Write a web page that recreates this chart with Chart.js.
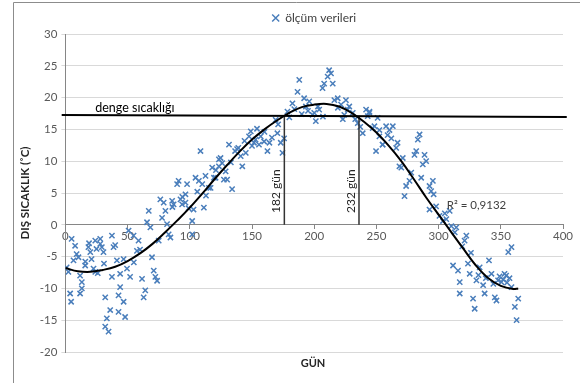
<!DOCTYPE html>
<html>
<head>
<meta charset="utf-8">
<script src="https://cdn.jsdelivr.net/npm/chart.js@4/dist/chart.umd.min.js"></script>
<style>
  body { margin: 0; background: #fff; }
  #wrap { position: relative; width: 580px; height: 383px; }
</style>
</head>
<body>
<div id="wrap"><canvas id="chart" width="580" height="383"></canvas></div>
<script>
// gün, sıcaklık (°C)
const olcumGun = [
  5, 7.8, 1, 2.4, 6.5, 3.8, 4.6, 10.5, 11.8, 13.2, 13.2, 11.8, 15.9, 18.5, 20, 21, 22.6, 24, 25, 28,
  28, 29.3, 30.6, 24, 32, 33.3, 34.7, 32, 36, 37.4, 37.4, 38.7, 41.4, 42.7, 44, 42.7, 44, 46.8, 48, 46.8,
  49.5, 50.8, 52, 54.8, 58.8, 57.5, 61.6, 64.2, 62.9, 65.6, 67, 68.3, 69.6, 71, 72.3, 73.7, 75, 76.3, 77.7, 79,
  80.4, 81.7, 83, 84.4, 85.8, 87, 89.8, 91, 92.5, 93.8, 96.5, 97.8, 96.5, 101.9, 101.9, 103, 104.6, 107.3, 110, 111.3,
  112.6, 116.7, 118, 120.7, 123.4, 126, 127.4, 108.6, 115.3, 119.4, 123.4, 124.7, 128.8, 130, 134, 131.5, 136.4, 139, 140.9, 142.2,
  145, 147.6, 149, 151.6, 152.9, 155.6, 157, 159.7, 162.4, 164, 169, 170.4, 173.1, 174.5, 175.8, 178.5, 182.5, 186.6, 188, 191.9,
  193.3, 196, 198.7, 201.3, 204, 206.7, 208, 210.8, 212, 213.5, 214.9, 216.2, 218.9, 221.6, 224.2, 225.5, 228.2, 231, 235, 239,
  241.7, 244.4, 247, 249.7, 252.4, 255, 257.8, 244.4, 248.4, 252.4, 255, 260.5, 263.2, 265.9, 268.5, 270, 271.2, 273.9, 272.6, 276.6,
  280.6, 282, 283.3, 284.7, 286, 287.3, 288.7, 290, 292.7, 294, 295.4, 292.7, 296, 300.7, 303.5, 306.2, 308.9, 310.2, 314.2, 320.9,
  322.3, 311.6, 315.6, 317, 317, 323.6, 325, 327.7, 329, 330.4, 333, 335.8, 337, 340.5, 342.5, 345.2, 346.5, 347.8, 350.5, 353,
  354.3, 356, 358.6, 358.6, 361.3, 364, 362.7,
  9, 16, 19, 26, 31, 40, 55, 60, 86, 94, 99, 106, 113, 121, 133, 138, 144, 150, 154, 160,
  166, 171, 180, 184, 190, 195, 200, 203, 207, 219, 223, 227, 233, 237, 243, 251, 259, 262, 267, 278,
  298, 305, 313, 319, 326, 332, 338, 344, 349, 352, 355, 357
];
const olcumSicaklik = [
  -2.2, -3.3, -6.7, -7.4, -5.6, -10.8, -12.1, -5.1, -8, -9, -10, -10.8, -6.4, -3.5, -4.3, -5.4, -6.9, -2.5, -3.8, -3,
  -2.2, -3.5, -4.3, -7.4, -11.4, -14.7, -16.8, -16, -13.4, -1.7, -8.2, -3.5, -5.6, -11.1, -9.8, -13.7, -7.7, -5.4, -14.5, -12.1,
  -6.9, -0.9, -8.2, -1.7, -2.5, -4.1, -8.5, -10.3, -11.4, 0.4, 2.2, -0.4, -5.1, -7.2, -8.2, -8.8, -2.5, 4, 1.1, 3.5,
  2.2, 0.1, -1.5, -2, 3.75, 3.2, 6.4, 6.9, 4, 3.2, 3.5, 6.4, 4.8, 0.6, -1.5, 2.4, 7.4, 6.9, 6.4, 2.7,
  7.7, 5.8, 9, 7.4, 10.3, 9.7, 7.1, 11.6, 5.8, 7.4, 9.2, 10.5, 8.4, 7.1, 5.6, 12.6, 11.6, 12.1, 10.8, 9.2,
  11.3, 13.9, 14.7, 12.9, 13.4, 12.6, 13.9, 13.1, 11.6, 12.9, 16.5, 14.4, 12.9, 11.3, 13.6, 17.8, 19.1, 20.9, 22.8, 19.9,
  18.6, 19.4, 17.3, 16.3, 18.1, 21.5, 22.2, 23.3, 24.3, 23.8, 22.2, 19.6, 19.9, 18.9, 17.3, 19.6, 18.6, 17.6, 16, 14.4,
  18.1, 17.6, 15.2, 11.6, 13.9, 12.6, 15.5, 17.8, 15.5, 14.9, 12.6, 14.9, 15.5, 12.1, 9.2, 9, 10.5, 6.1, 4.5, 6.9,
  11, 11.6, 13.4, 14.2, 7.4, 9.5, 11, 10, 6.1, 5.3, 6.9, 2.4, 4.8, 1.4, 0.6, 0.9, 2.2, -0.2, -0.4, -2.5,
  -1.7, -6.4, -7.2, -9, -10.8, -6.1, -7.7, -11.6, -13.2, -8.75, -6.7, -9.5, -10.8, -5.6, -7.7, -11.4, -11.9, -8.75, -9, -7.7,
  -8, -4.3, -3.5, -9.8, -12.9, -11.6, -15,
  -4.6, -5.8, -2.9, -7.6, -6.1, -3.2, -5.9, -3.9, 2.8, 4.4, 2.6, 5.2, 4.6, 8.6, 9.8, 11.9, 13.2, 12.4, 15.1, 14.6,
  13.7, 15.8, 16.9, 18.2, 17.4, 17.9, 17.6, 18.6, 17.0, 18.4, 16.6, 18.1, 16.6, 15.4, 17.1, 16.8, 14.1, 13.6, 12.9, 8.2,
  2.9, 1.8, -1.2, -3.4, -4.4, -7.9, -8.4, -9.3, -8.1, -8.6, -9.1, -8.4
];
// polinom eğilim çizgisi, resimden okunan noktalar
const egilimGun = [0, 10, 20, 30, 40, 50, 60, 70, 80, 90, 100, 110, 120, 130, 140, 150, 160, 170, 180, 190,
  200, 210, 220, 230, 240, 250, 260, 270, 280, 290, 300, 310, 320, 330, 340, 350, 360, 364];
const egilimDeger = [-6.8, -7.3, -7.4, -7.1, -6.6, -5.7, -4.5, -3.0, -1.2, 0.7, 2.7, 4.9, 7.2, 9.4, 11.5, 13.4, 15.0, 16.4, 17.6, 18.5,
  18.9, 19.0, 18.6, 17.6, 16.2, 14.5, 12.4, 10.0, 7.2, 4.3, 1.6, -1.1, -3.8, -6.4, -8.4, -9.6, -10.1, -10.0];
const dengeGun = [-3, 403];
const dengeSicaklik = [17.25, 16.95];
const sinirGunleri = [176, 236];
const sinirEtiketleri = ["182 gün", "232 gün"];
const r2Etiketi = "R² = 0,9132";
const xTicks = [0, 50, 100, 150, 200, 250, 300, 350, 400];
const yTicks = [-20, -15, -10, -5, 0, 5, 10, 15, 20, 25, 30];

const FONT = "Lato, 'Open Sans', sans-serif";
const mavi = "#4a7ebb";

const olcum = olcumGun.map((g, i) => ({x: g, y: olcumSicaklik[i]}));
const egilim = egilimGun.map((g, i) => ({x: g, y: egilimDeger[i]}));
const denge = dengeGun.map((g, i) => ({x: g, y: dengeSicaklik[i]}));

function dikeyCizgi(gun) {
    return {
        label: "_dikey",
        data: [{x: gun, y: 0}, {x: gun, y: 17.15}],
        showLine: true,
        borderColor: "#333",
        borderWidth: 1.5,
        pointRadius: 0,
        order: 0
    };
}

const cerceve = {
    id: "cerceve",
    beforeDraw(chart) {
        const ctx = chart.ctx;
        ctx.save();
        ctx.strokeStyle = "#8c8c8c";
        ctx.lineWidth = 1;
        ctx.beginPath();
        ctx.moveTo(13.5, 383);
        ctx.lineTo(13.5, 2.5);
        ctx.lineTo(580, 2.5);
        ctx.stroke();
        ctx.restore();
    }
};

const yazilar = {
    id: "yazilar",
    afterDatasetsDraw(chart) {
        const ctx = chart.ctx;
        const xs = chart.scales.x, ys = chart.scales.y;
        ctx.save();
        ctx.fillStyle = "#000";
        ctx.font = "12.5px " + FONT;
        ctx.textBaseline = "middle";
        ctx.textAlign = "left";
        ctx.fillText("denge sıcaklığı", xs.getPixelForValue(24), ys.getPixelForValue(18.3));

        ctx.font = "12px " + FONT;
        ctx.fillStyle = "#262626";
        sinirGunleri.forEach((g, i) => {
            ctx.save();
            ctx.translate(xs.getPixelForValue(g) - 8, ys.getPixelForValue(5.3));
            ctx.rotate(-Math.PI / 2);
            ctx.textAlign = "center";
            ctx.fillText(sinirEtiketleri[i], 0, 0);
            ctx.restore();
        });

        ctx.font = "11.5px " + FONT;
        ctx.fillStyle = "#404040";
        ctx.textAlign = "left";
        ctx.fillText(r2Etiketi, xs.getPixelForValue(306.5), ys.getPixelForValue(3.0));

        ctx.font = "bold 11px " + FONT;
        ctx.fillStyle = "#262626";
        ctx.textAlign = "center";
        ctx.fillText("GÜN", xs.getPixelForValue(199), chart.chartArea.bottom + 11);
        ctx.restore();
    }
};

new Chart(document.getElementById("chart"), {
    type: "scatter",
    data: {
        datasets: [
            {
                label: "denge",
                data: denge,
                showLine: true,
                borderColor: "#000",
                borderWidth: 2,
                pointRadius: 0,
                clip: false,
                order: 0
            },
            {
                label: "eğilim",
                data: egilim,
                showLine: true,
                borderColor: "#000",
                borderWidth: 2,
                pointRadius: 0,
                tension: 0.4,
                order: 0
            },
            dikeyCizgi(sinirGunleri[0]),
            dikeyCizgi(sinirGunleri[1]),
            {
                label: "ölçüm verileri",
                data: olcum,
                pointStyle: "crossRot",
                pointRadius: 3.7,
                borderColor: mavi,
                backgroundColor: mavi,
                borderWidth: 1.5,
                order: 5
            }
        ]
    },
    options: {
        responsive: false,
        animation: false,
        layout: {padding: {left: 18, right: 17, top: 4, bottom: 31}},
        plugins: {
            tooltip: {enabled: false},
            legend: {
                position: "top",
                fullSize: false,
                labels: {
                    filter: item => item.text === "ölçüm verileri",
                    usePointStyle: true,
                    boxWidth: 7,
                    boxHeight: 7,
                    padding: 8,
                    color: "#404040",
                    font: {family: FONT, size: 12}
                }
            }
        },
        scales: {
            x: {
                type: "linear",
                position: {y: 0},
                min: 0,
                max: 400,
                afterBuildTicks: s => { s.ticks = xTicks.map(v => ({value: v})); },
                ticks: {color: "#595959", font: {family: FONT, size: 11.5}, padding: 1},
                grid: {drawOnChartArea: false, drawTicks: true, tickLength: 4, color: "#868686"},
                border: {color: "#868686", width: 1}
            },
            y: {
                min: -20,
                max: 30,
                afterBuildTicks: s => { s.ticks = yTicks.map(v => ({value: v})); },
                ticks: {color: "#595959", font: {family: FONT, size: 11.5}, padding: 4},
                grid: {color: "#d9d9d9", lineWidth: 1, tickLength: 4},
                border: {color: "#868686", width: 1},
                title: {
                    display: true,
                    text: "DIŞ SICAKLIK (˚C)",
                    color: "#262626",
                    font: {family: FONT, size: 11.5, weight: "bold"},
                    padding: {top: 0, bottom: 4}
                }
            }
        }
    },
    plugins: [cerceve, yazilar]
});
</script>
</body>
</html>
